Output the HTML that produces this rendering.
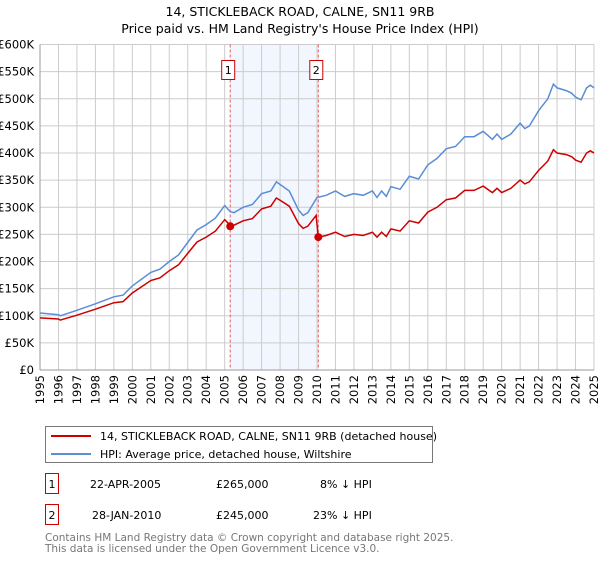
<!DOCTYPE html>
<html><head><meta charset="utf-8"><style>
body{margin:0;background:#fff;font-family:"Liberation Sans","DejaVu Sans",sans-serif}
</style></head><body>
<svg width="600" height="560" viewBox="0 0 600 560" xmlns="http://www.w3.org/2000/svg" font-family="DejaVu Sans, Liberation Sans, sans-serif">
<text x="300" y="16" text-anchor="middle" font-size="12.5">14, STICKLEBACK ROAD, CALNE, SN11 9RB</text>
<text x="300" y="33" text-anchor="middle" font-size="12.5">Price paid vs. HM Land Registry's House Price Index (HPI)</text>
<g id="plot"></g>
<g>
<rect x="45.5" y="426.5" width="387" height="36" fill="#fff" stroke="#777"/>
<line x1="51" y1="436" x2="91" y2="436" stroke="#cc0000" stroke-width="2"/>
<text x="100" y="440" font-size="11">14, STICKLEBACK ROAD, CALNE, SN11 9RB (detached house)</text>
<line x1="51" y1="454" x2="91" y2="454" stroke="#5b8dd6" stroke-width="2"/>
<text x="100" y="458" font-size="11">HPI: Average price, detached house, Wiltshire</text>
</g>
<g font-size="11">
<rect x="45.5" y="473.5" width="13" height="20" fill="#fff" stroke="#cc0000"/>
<text x="52" y="488" text-anchor="middle">1</text>
<text x="90" y="488">22-APR-2005</text>
<text x="216" y="488">£265,000</text>
<text x="320" y="488">8% ↓ HPI</text>
<rect x="45.5" y="504.5" width="13" height="20" fill="#fff" stroke="#cc0000"/>
<text x="52" y="519" text-anchor="middle">2</text>
<text x="92" y="519">28-JAN-2010</text>
<text x="216" y="519">£245,000</text>
<text x="313" y="519">23% ↓ HPI</text>
</g>
<text x="45" y="541" font-size="10.5" fill="#777">Contains HM Land Registry data © Crown copyright and database right 2025.</text>
<text x="45" y="552" font-size="10.5" fill="#777">This data is licensed under the Open Government Licence v3.0.</text>
</svg>
<script>
const hpiYears=[1995,1996,1996.1,1997,1998,1999,1999.5,2000,2001,2001.5,2002,2002.5,2003,2003.5,2004,2004.5,2005,2005.3,2005.5,2006,2006.5,2007,2007.5,2007.8,2008,2008.5,2009,2009.25,2009.5,2010,2010.5,2011,2011.5,2012,2012.5,2013,2013.25,2013.5,2013.75,2014,2014.5,2015,2015.5,2016,2016.5,2017,2017.5,2018,2018.5,2019,2019.5,2019.75,2020,2020.5,2021,2021.25,2021.5,2022,2022.5,2022.8,2023,2023.5,2023.8,2024,2024.3,2024.6,2024.8,2025];
const hpiValues=[105,102,100,110,122,135,138,155,180,186,200,212,235,258,268,280,303,292,290,300,305,325,330,347,342,330,295,285,290,318,322,330,320,325,322,330,318,330,320,338,333,357,352,378,390,408,412,430,430,440,425,435,425,435,455,445,450,478,500,527,520,515,510,503,498,520,525,520];
const priceYears=[1995,1996,1996.1,1997,1998,1999,1999.5,2000,2001,2001.5,2002,2002.5,2003,2003.5,2004,2004.5,2005,2005.3,2005.5,2006,2006.5,2007,2007.5,2007.8,2008,2008.5,2009,2009.25,2009.5,2009.95,2010.07,2010.5,2011,2011.5,2012,2012.5,2013,2013.25,2013.5,2013.75,2014,2014.5,2015,2015.5,2016,2016.5,2017,2017.5,2018,2018.5,2019,2019.5,2019.75,2020,2020.5,2021,2021.25,2021.5,2022,2022.5,2022.8,2023,2023.5,2023.8,2024,2024.3,2024.6,2024.8,2025];
const priceValues=[96,94,92,101,112,124,126,142,165,170,183,194,215,236,245,256,277,267,267,275,279,297,302,317,313,302,270,261,265,285,245,248,254,246,250,248,254,245,254,246,260,256,275,271,291,300,314,317,331,331,339,327,335,327,335,350,343,347,368,385,406,400,397,393,387,383,400,404,400];
const saleYears=[2005.3,2010.07];
const saleValues=[265,245];
const saleLabels=["1","2"];
const yTicks=[0,50,100,150,200,250,300,350,400,450,500,550,600];
const yTickLabels=["£0","£50K","£100K","£150K","£200K","£250K","£300K","£350K","£400K","£450K","£500K","£550K","£600K"];
const xTicks=[1995,1996,1997,1998,1999,2000,2001,2002,2003,2004,2005,2006,2007,2008,2009,2010,2011,2012,2013,2014,2015,2016,2017,2018,2019,2020,2021,2022,2023,2024,2025];

const NS="http://www.w3.org/2000/svg";
const X0=40,X1=594,Y0=370,Y1=44.5;
const xs=y=>X0+(y-1995)/30*(X1-X0);
const ys=v=>Y0-v/600*(Y0-Y1);
const plot=document.getElementById('plot');
function mk(t,a){const e=document.createElementNS(NS,t);for(const k in a)e.setAttribute(k,a[k]);plot.appendChild(e);return e;}
let e;
e=mk('rect',{x:xs(saleYears[0]),y:Y1,width:xs(saleYears[1])-xs(saleYears[0]),height:Y0-Y1,fill:'#f2f6fe'});


yTicks.forEach((t,i)=>{
 e=mk('line',{x1:X0,x2:X1,y1:ys(t),y2:ys(t),stroke:'#cccccc'});
 
 
 e=mk('text',{x:X0-6,y:ys(t)+4,'text-anchor':'end','font-size':'11.5'});
 e.textContent=yTickLabels[i];
 
 
});
xTicks.forEach(t=>{
 e=mk('line',{x1:xs(t),x2:xs(t),y1:Y1,y2:Y0,stroke:'#cccccc'});
 
 
 const tx=xs(t)+4,ty=Y0+5;
 e=mk('text',{x:tx,y:ty,'text-anchor':'end','font-size':'11.5',transform:`rotate(-90 ${tx} ${ty})`});
 e.textContent=t;
 
 
});
e=mk('line',{x1:X0,x2:X0,y1:Y1,y2:Y0,stroke:'#999'});


e=mk('line',{x1:X0,x2:X1,y1:Y0,y2:Y0,stroke:'#999'});


saleYears.forEach((s,i)=>{
 e=mk('line',{x1:xs(s),x2:xs(s),y1:Y1,y2:Y0,stroke:'#e06060','stroke-dasharray':'3,2'});
 
 
});
const path=(xa,va)=>xa.map((x,i)=>(i?'L':'M')+xs(x).toFixed(1)+','+ys(va[i]).toFixed(1)).join('');
e=mk('path',{d:path(hpiYears,hpiValues),fill:'none',stroke:'#5b8dd6','stroke-width':1.5});


e=mk('path',{d:path(priceYears,priceValues),fill:'none',stroke:'#cc0000','stroke-width':1.5});


saleYears.forEach((s,i)=>{
 e=mk('circle',{cx:xs(s),cy:ys(saleValues[i]),r:4,fill:'#cc0000'});
 
 
 e=mk('rect',{x:xs(s)-8.5,y:60.5,width:13,height:19,fill:'#fff',stroke:'#cc0000'});
 
 
 e=mk('text',{x:xs(s)-2,y:74,'text-anchor':'middle','font-size':'11'});
 e.textContent=saleLabels[i];
 
 
});
</script>
</body></html>
